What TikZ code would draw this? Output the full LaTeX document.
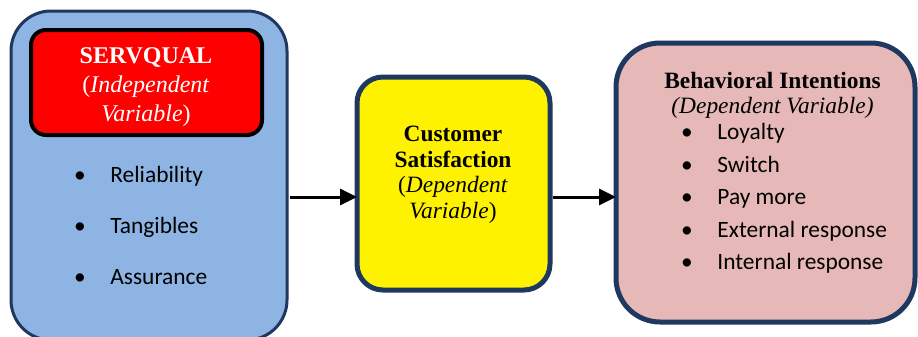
\documentclass[tikz,border=0pt]{standalone}
\usepackage{fontspec}
\setmainfont{Liberation Serif}
\newfontfamily\itemfont{Carlito}
\usetikzlibrary{arrows.meta,
                positioning}
\definecolor{navy}{RGB}{31,56,96}
\definecolor{skyblue}{RGB}{142,180,227}
\definecolor{rosepink}{RGB}{230,185,184}

\begin{document}
\begin{tikzpicture}[x=0.5pt, y=-0.5pt,
   BOX/.style = {draw=navy, line width=1.5pt, inner sep=0pt, outer sep=0pt},
   TTL/.style = {align=center, inner sep=0pt, anchor=north},
   ITM/.style = {font=\itemfont\fontsize{11.7}{14}\selectfont,
                 inner sep=0pt, anchor=base west},
   BLT/.style = {font=\itemfont\fontsize{11.7}{14}\selectfont,
                 inner sep=0pt, anchor=base},
   ARR/.style = {line width=1.5pt, -{Triangle[length=8.5pt,width=8pt]}}
                        ]
\clip (0,0) rectangle (918,337);
% boxes
\node (indep) [BOX, fill=skyblue, minimum width=138pt, minimum height=164.5pt,
               rounded corners=20pt] at (149,175.5) {};
\node (servq) [BOX, draw=black, line width=2pt, fill=red,
               minimum width=115.5pt, minimum height=52.5pt,
               rounded corners=7.5pt] at (146.5,82.5) {};
\node (sat)   [BOX, line width=2.5pt, fill=yellow, minimum width=96.5pt,
               minimum height=106.5pt, rounded corners=13pt] at (453.5,183.5) {};
\node (intent)[BOX, line width=2.5pt, fill=rosepink, minimum width=149.5pt,
               minimum height=139.5pt, rounded corners=22pt] at (765.5,182.5) {};
% titles
\node (servqtxt) [TTL, text=white, font=\fontsize{12}{14.5}\selectfont]
      at (146,47) {\textbf{SERVQUAL}\\(\textit{Independent}\\\textit{Variable})};
\node (sattxt) [TTL, font=\fontsize{11.7}{12.7}\selectfont]
      at (453,126) {\textbf{Customer}\\\textbf{Satisfaction}\\(\textit{Dependent}\\\textit{Variable})};
\node (intenttxt) [TTL, font=\fontsize{11.7}{12.5}\selectfont]
      at (772.5,72) {\textbf{Behavioral Intentions}\\\textit{(Dependent Variable)}};
% bullet lists
\foreach \t [count=\i] in {Reliability, Tangibles, Assurance}
  {
  \node (bd\i) [BLT] at (80,{182+51.5*(\i-1)}) {\textbullet};
  \node (dim\i) [ITM] at (110,{182+51.5*(\i-1)}) {\t};
  }
\foreach \t [count=\i] in {Loyalty, Switch, Pay more, External response, Internal response}
  {
  \node (bb\i) [BLT] at (687,{140+32.5*(\i-1)}) {\textbullet};
  \node (beh\i) [ITM] at (717,{140+32.5*(\i-1)}) {\t};
  }
% arrows
\coordinate (lvl) at (0,197);
\draw[ARR, shorten <=1.5pt] (indep.east |- lvl) -- (sat.west |- lvl);
\draw[ARR, shorten <=1.5pt] (sat.east |- lvl) -- (intent.west |- lvl);
\end{tikzpicture}
\end{document}
